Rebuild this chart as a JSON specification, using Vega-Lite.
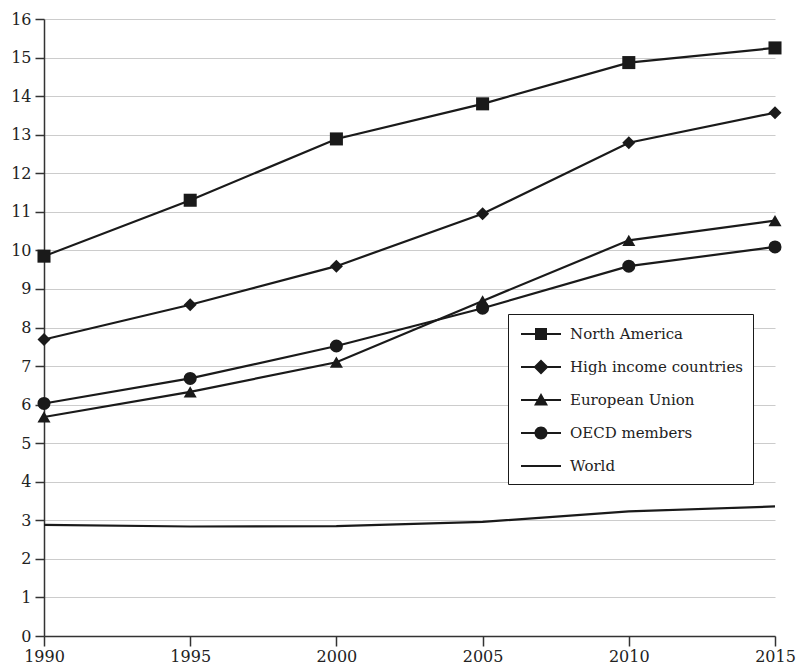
{
  "$schema": "https://vega.github.io/schema/vega-lite/v6.json",
  "width": 731,
  "height": 617,
  "autosize": "none",
  "padding": {"left": 44, "top": 19, "right": 22, "bottom": 30},
  "background": "white",
  "config": {
    "view": {"stroke": null},
    "font": "DejaVu Serif",
    "axis": {"labelFont": "DejaVu Serif", "labelFontSize": 16, "labelColor": "#222", "domainColor": "#333", "domainWidth": 1.5, "tickColor": "#333", "tickWidth": 1.5, "title": null},
    "legend": {"labelFont": "DejaVu Serif"}
  },
  "data": {
    "values": [
      {"year": 1990, "series": "North America", "value": 9.85},
      {"year": 1995, "series": "North America", "value": 11.3},
      {"year": 2000, "series": "North America", "value": 12.89},
      {"year": 2005, "series": "North America", "value": 13.8},
      {"year": 2010, "series": "North America", "value": 14.87},
      {"year": 2015, "series": "North America", "value": 15.25},
      {"year": 1990, "series": "High income countries", "value": 7.69},
      {"year": 1995, "series": "High income countries", "value": 8.59},
      {"year": 2000, "series": "High income countries", "value": 9.59},
      {"year": 2005, "series": "High income countries", "value": 10.95},
      {"year": 2010, "series": "High income countries", "value": 12.79},
      {"year": 2015, "series": "High income countries", "value": 13.57},
      {"year": 1990, "series": "European Union", "value": 5.68},
      {"year": 1995, "series": "European Union", "value": 6.33},
      {"year": 2000, "series": "European Union", "value": 7.1},
      {"year": 2005, "series": "European Union", "value": 8.69},
      {"year": 2010, "series": "European Union", "value": 10.26},
      {"year": 2015, "series": "European Union", "value": 10.77},
      {"year": 1990, "series": "OECD members", "value": 6.03},
      {"year": 1995, "series": "OECD members", "value": 6.68},
      {"year": 2000, "series": "OECD members", "value": 7.52},
      {"year": 2005, "series": "OECD members", "value": 8.5},
      {"year": 2010, "series": "OECD members", "value": 9.59},
      {"year": 2015, "series": "OECD members", "value": 10.09},
      {"year": 1990, "series": "World", "value": 2.88},
      {"year": 1995, "series": "World", "value": 2.84},
      {"year": 2000, "series": "World", "value": 2.85},
      {"year": 2005, "series": "World", "value": 2.96},
      {"year": 2010, "series": "World", "value": 3.23},
      {"year": 2015, "series": "World", "value": 3.36}
    ]
  },
  "encoding": {
    "x": {
      "field": "year", "type": "quantitative",
      "scale": {"domain": [1990, 2015], "nice": false, "zero": false},
      "axis": {"values": [1990, 1995, 2000, 2005, 2010, 2015], "format": "d", "grid": false, "tickSize": 10, "labelPadding": 2, "labelFlush": false}
    },
    "y": {
      "field": "value", "type": "quantitative",
      "scale": {"domain": [0, 16], "nice": false},
      "axis": {"values": [0,1,2,3,4,5,6,7,8,9,10,11,12,13,14,15,16], "grid": true, "gridColor": "#cccccc", "gridWidth": 1.2, "tickSize": 9, "labelPadding": 4}
    }
  },
  "layer": [
    {
      "mark": {"type": "line", "color": "#1a1a1a", "strokeWidth": 2.2},
      "encoding": {"detail": {"field": "series"}}
    },
    {
      "transform": [{"filter": "datum.series !== 'World'"}],
      "mark": {"type": "point", "filled": true, "color": "#1a1a1a", "opacity": 1, "size": 170},
      "encoding": {
        "shape": {
          "field": "series",
          "scale": {"domain": ["North America", "High income countries", "European Union", "OECD members"], "range": ["square", "diamond", "triangle-up", "circle"]},
          "legend": null
        }
      }
    },
    {
      "transform": [{"filter": "datum.year < 0"}],
      "mark": {"type": "point", "filled": true, "color": "#1a1a1a", "opacity": 1, "size": 400},
      "encoding": {
        "shape": {
          "field": "series",
          "scale": {
            "domain": ["North America", "High income countries", "European Union", "OECD members", "World"],
            "range": [
              "M-2,-0.11L2,-0.11L2,0.11L-2,0.11Z M-0.6,-0.6L0.6,-0.6L0.6,0.6L-0.6,0.6Z",
              "M-2,-0.11L2,-0.11L2,0.11L-2,0.11Z M-0.75,0L0,-0.75L0.75,0L0,0.75Z",
              "M-2,-0.11L2,-0.11L2,0.11L-2,0.11Z M0,-0.7L0.7,0.55L-0.7,0.55Z",
              "M-2,-0.11L2,-0.11L2,0.11L-2,0.11Z M-0.65,0A0.65,0.65 0 1,1 0.65,0A0.65,0.65 0 1,1 -0.65,0Z",
              "M-2,-0.11L2,-0.11L2,0.11L-2,0.11Z"
            ]
          },
          "legend": {
            "title": null,
            "orient": "none",
            "legendX": 464,
            "legendY": 295,
            "padding": 10,
            "strokeColor": "#1a1a1a",
            "fillColor": "white",
            "symbolSize": 400,
            "symbolStrokeWidth": 0,
            "symbolFillColor": "#1a1a1a",
            "symbolOffset": 13,
            "labelFontSize": 15,
            "labelColor": "#222",
            "labelOffset": 19,
            "labelLimit": 400,
            "rowPadding": 15
          }
        }
      }
    }
  ],
  "resolve": {"scale": {"shape": "independent"}}
}
